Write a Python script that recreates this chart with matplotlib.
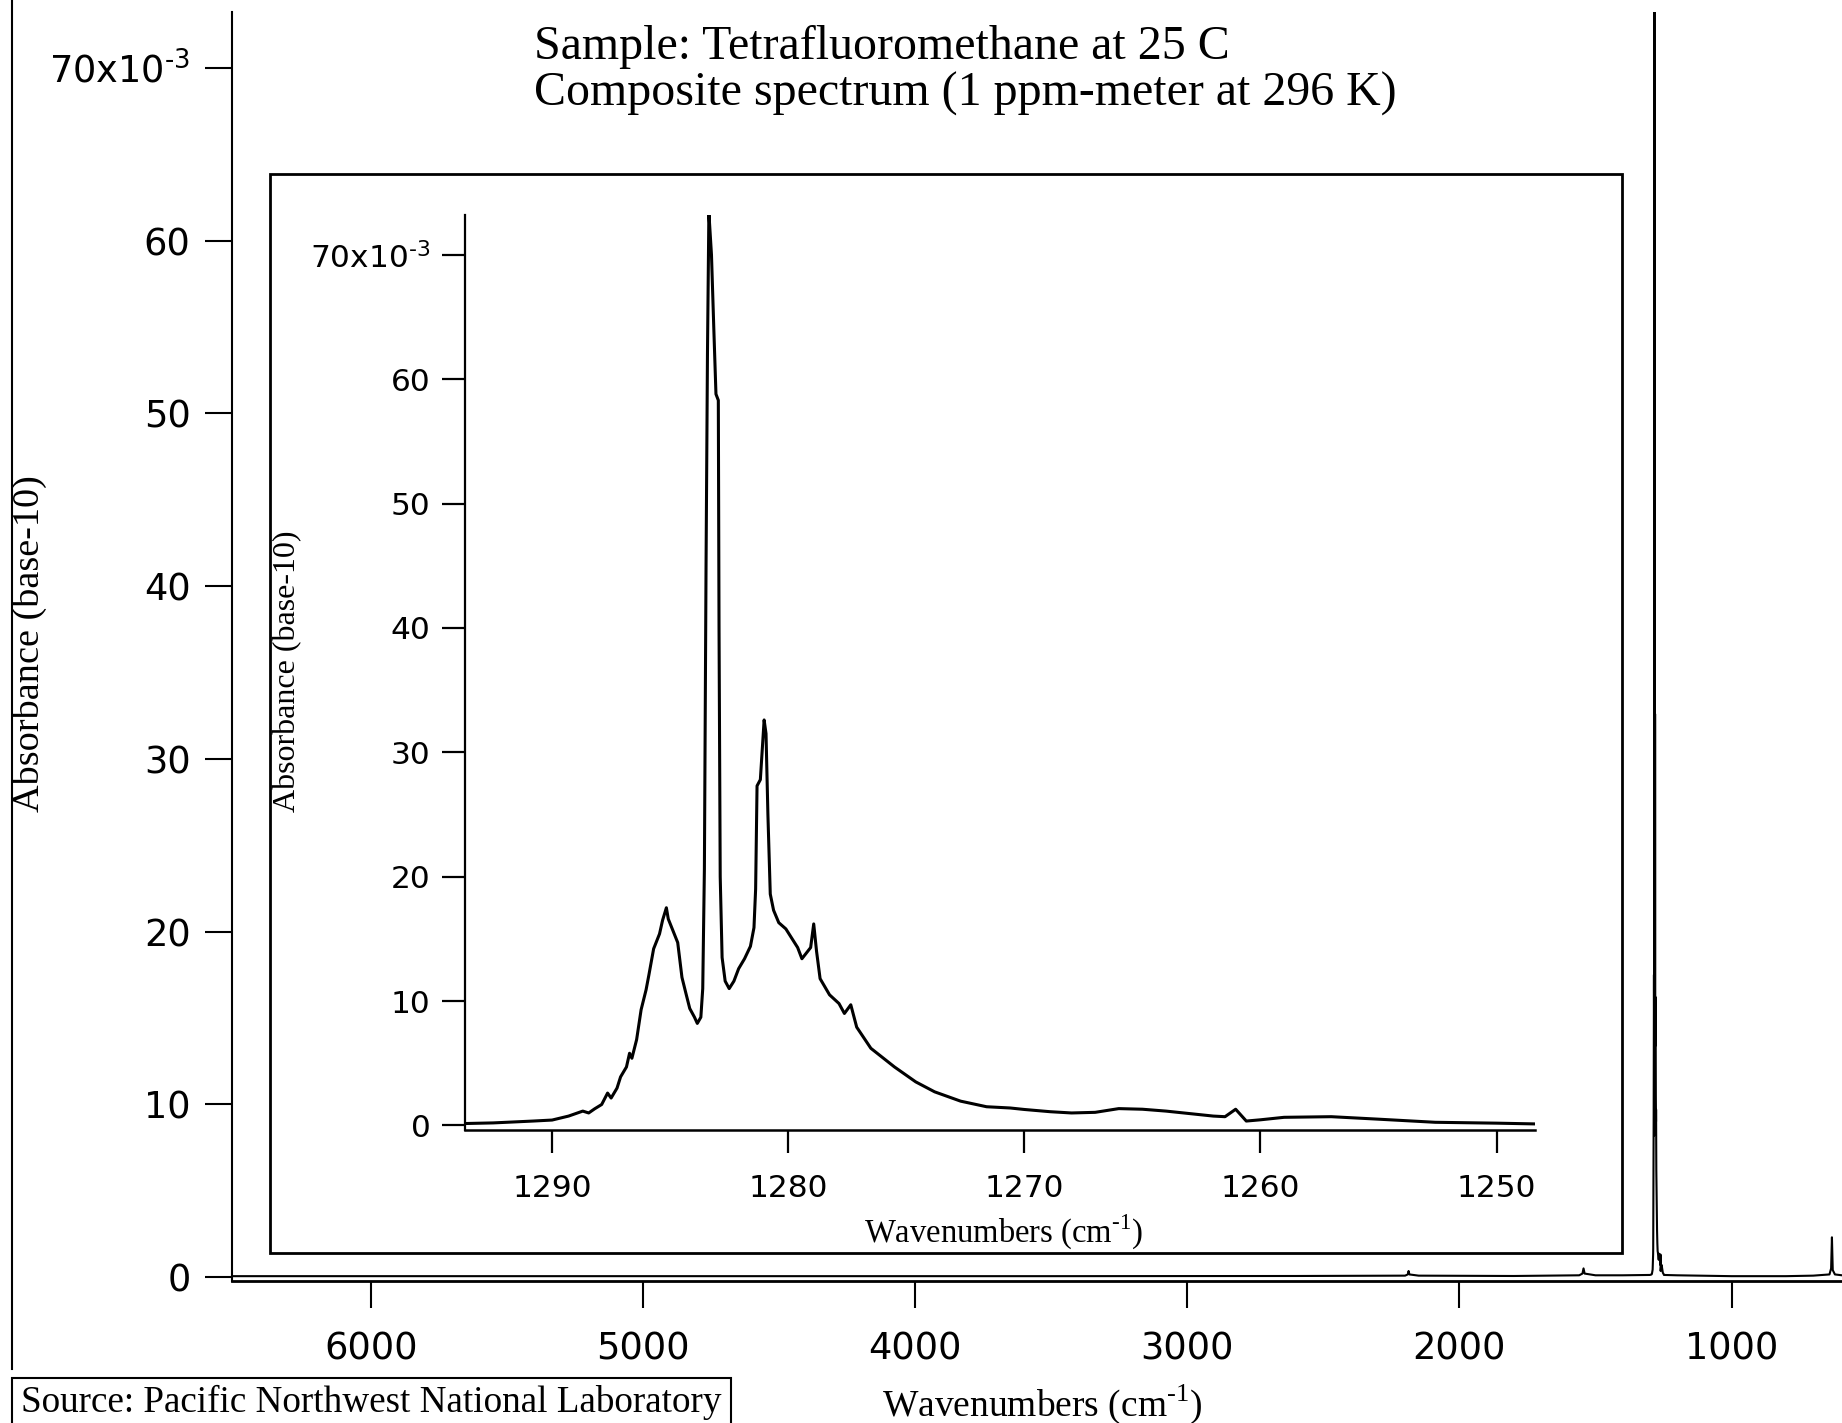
import numpy as np
import matplotlib
matplotlib.use('Agg')
import matplotlib.pyplot as plt
from matplotlib.patches import Rectangle
from matplotlib.lines import Line2D

# absorbance values are in units of 1e-3
# inset: the 1294-1248 cm-1 band
inset_wn = [1293.7, 1292.5, 1291.7, 1290.8, 1290.0, 1289.3, 1288.7, 1288.45, 1288.2, 1287.9,
            1287.65, 1287.5, 1287.25, 1287.1, 1286.85, 1286.72, 1286.62, 1286.42, 1286.23, 1286.02,
            1285.9, 1285.7, 1285.45, 1285.32, 1285.16, 1285.08, 1284.89, 1284.68, 1284.5, 1284.33,
            1284.17, 1283.97, 1283.85, 1283.7, 1283.62, 1283.55, 1283.48, 1283.42, 1283.36, 1283.25,
            1283.15, 1283.06, 1282.96, 1282.93, 1282.88, 1282.8, 1282.67, 1282.5, 1282.3, 1282.1,
            1281.85, 1281.6, 1281.45, 1281.38, 1281.32, 1281.18, 1281.02, 1280.94, 1280.86, 1280.76,
            1280.62, 1280.4, 1280.1, 1279.8, 1279.6, 1279.42, 1279.05, 1278.92, 1278.8, 1278.65,
            1278.25, 1277.85, 1277.62, 1277.35, 1277.1, 1276.5, 1275.5, 1274.6, 1273.8, 1272.7,
            1271.6, 1270.6, 1270.0, 1268.9, 1268.0, 1267.0, 1266.0, 1265.0, 1264.0, 1263.0,
            1262.0, 1261.5, 1261.05, 1260.6, 1260.0, 1259.0, 1257.0, 1255.0, 1252.6, 1250.0, 1248.4]
inset_abs = [0.15, 0.2, 0.27, 0.35, 0.43, 0.75, 1.15, 1.0, 1.33, 1.68,
             2.6, 2.2, 3.0, 3.9, 4.7, 5.8, 5.4, 6.9, 9.3, 10.9,
             12.1, 14.2, 15.4, 16.5, 17.5, 16.6, 15.7, 14.7, 11.9, 10.6,
             9.4, 8.7, 8.2, 8.7, 11.0, 20.6, 45.0, 62.0, 73.4, 70.0,
             64.0, 58.8, 58.3, 40.0, 20.0, 13.5, 11.6, 11.0, 11.6, 12.6,
             13.4, 14.4, 15.9, 19.0, 27.3, 27.8, 32.6, 31.5, 25.0, 18.6,
             17.3, 16.3, 15.8, 14.9, 14.3, 13.4, 14.3, 16.2, 14.0, 11.8,
             10.5, 9.8, 9.0, 9.7, 7.9, 6.2, 4.7, 3.5, 2.7, 1.95,
             1.5, 1.4, 1.28, 1.1, 1.0, 1.05, 1.35, 1.3, 1.15, 0.95,
             0.75, 0.7, 1.3, 0.35, 0.45, 0.65, 0.7, 0.5, 0.25, 0.18, 0.12]

# full range outside the inset band
high_wn = [6510, 5500, 4500, 3500, 2600, 2200, 2190, 2187, 2184, 2150,
           1800, 1560, 1548, 1544, 1540, 1500, 1400, 1300]
high_abs = [0.05, 0.05, 0.05, 0.05, 0.06, 0.08, 0.15, 0.35, 0.15, 0.08,
            0.06, 0.1, 0.2, 0.5, 0.2, 0.1, 0.1, 0.12]
low_wn = [1200, 1000, 800, 700, 640, 634, 631, 628, 620, 594]
low_abs = [0.1, 0.05, 0.05, 0.08, 0.15, 0.5, 2.3, 0.4, 0.15, 0.1]

main_ticks_x = [6000, 5000, 4000, 3000, 2000, 1000]
inset_ticks_x = [1290, 1280, 1270, 1260, 1250]
y_ticks = [0, 10, 20, 30, 40, 50, 60, 70]
# U+2010 hyphen so mathtext keeps a short dash instead of a minus sign
y_labels = ['0', '10', '20', '30', '40', '50', '60', '70x10$^{\\mathregular{\u20103}}$']
xlabel = 'Wavenumbers (cm$^{\\mathregular{\u20101}}$)'

W, H = 1842, 1423
serif = 'Liberation Serif'
sans = 'DejaVu Sans'

fig = plt.figure(figsize=(W / 100, H / 100), dpi=100)


def fx(px):
    return px / W


def fy(py):
    return 1 - py / H


# main axes
ax = fig.add_axes([fx(231.5), fy(1281), 1 - fx(231.5), fy(12) - fy(1281)])
ax.plot(high_wn + inset_wn + low_wn, high_abs + inset_abs + low_abs, color='black', lw=1.5)
ax.set_xlim(6513.5, 594)
ax.set_ylim(-0.23, 73.24)
ax.set_xticks(main_ticks_x)
ax.set_yticks(y_ticks)
ax.set_yticklabels(y_labels)
for s in ['top', 'right']:
    ax.spines[s].set_visible(False)
ax.spines['left'].set_linewidth(1.5)
ax.spines['bottom'].set_linewidth(2.0)
ax.tick_params(axis='both', direction='out', length=19.5, width=1.5, labelsize=26.5)
ax.tick_params(axis='x', pad=16)
ax.tick_params(axis='y', pad=10)
for lab in ax.get_xticklabels() + ax.get_yticklabels():
    lab.set_fontfamily(sans)

# inset frame
fig.patches.append(Rectangle((fx(270), fy(1253)), fx(1622) - fx(270), fy(174) - fy(1253),
                             transform=fig.transFigure, fill=True, facecolor='white',
                             edgecolor='black', lw=2.0, zorder=2))

ins = fig.add_axes([fx(465.2), fy(1130), fx(1535.3) - fx(465.2), fy(215) - fy(1130)], zorder=3)
ins.patch.set_alpha(0)
ins.plot(inset_wn, inset_abs, color='black', lw=2.2, clip_on=True)
ins.set_xlim(1293.68, 1248.36)
ins.set_ylim(-0.37, 73.2)
ins.set_xticks(inset_ticks_x)
ins.set_yticks(y_ticks)
ins.set_yticklabels(y_labels)
for s in ['top', 'right']:
    ins.spines[s].set_visible(False)
ins.spines['left'].set_linewidth(1.6)
ins.spines['bottom'].set_linewidth(1.8)
ins.tick_params(axis='both', direction='out', length=16.5, width=1.6, labelsize=22.5)
ins.tick_params(axis='x', pad=15)
ins.tick_params(axis='y', pad=8.5)

# text
fig.text(fx(534), fy(59), 'Sample: Tetrafluoromethane at 25 C', family=serif, fontsize=34.5, va='baseline')
fig.text(fx(534), fy(106), 'Composite spectrum (1 ppm-meter at 296 K)', family=serif, fontsize=34.5,
         va='baseline')
fig.text(fx(29), fy(644), 'Absorbance (base-10)', family=serif, fontsize=27.5, rotation=90,
         ha='center', va='center')
fig.text(fx(1042), fy(1404), xlabel, family=serif, fontsize=27, ha='center', va='center')
fig.text(fx(288), fy(671), 'Absorbance (base-10)', family=serif, fontsize=23, rotation=90,
         ha='center', va='center', zorder=4)
fig.text(fx(1004), fy(1243), xlabel, family=serif, fontsize=23.5, ha='center', va='baseline', zorder=4)

# outer line and source box
fig.lines.append(Line2D([fx(12), fx(12)], [fy(0), fy(1369)], transform=fig.transFigure,
                        color='black', lw=1.5))
fig.patches.append(Rectangle((fx(12), fy(1425)), fx(731) - fx(12), fy(1378) - fy(1425),
                             transform=fig.transFigure, fill=False, edgecolor='black', lw=1.5))
fig.text(fx(21), fy(1412), 'Source: Pacific Northwest National Laboratory', family=serif,
         fontsize=26.7, va='baseline')

plt.savefig('out.png', dpi=100)
